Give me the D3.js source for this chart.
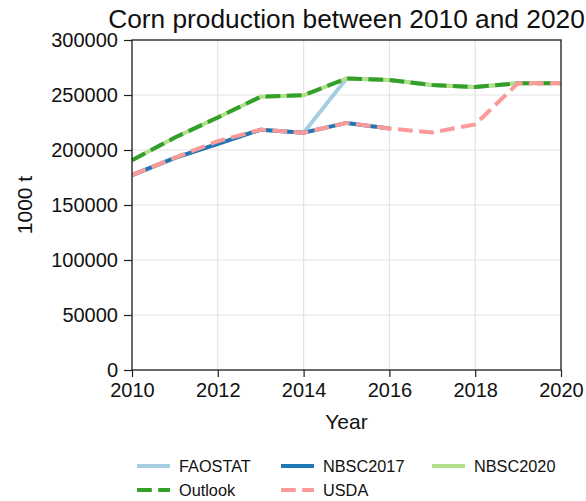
<!DOCTYPE html>
<html>
<head>
<meta charset="utf-8">
<script src="https://cdn.jsdelivr.net/npm/d3@7"></script>
<style>
  html, body { margin: 0; padding: 0; background: #fff; }
  svg { display: block; font-family: "Liberation Sans", Arial, sans-serif; }
</style>
</head>
<body>
<svg id="chart" width="586" height="501"></svg>
<script>
// Corn production series, 1000 t
const years = [2010, 2011, 2012, 2013, 2014, 2015, 2016, 2017, 2018, 2019, 2020];
const faostat  = [177245, 192781, 205614, 218489, 215646, 265030, 263610, 259070, 257170, 260780, null];
const nbsc2017 = [177245, 192781, 205614, 218489, 215646, 224632, 219554, null, null, null, null];
const nbsc2020 = [190750, 211310, 229560, 248450, 249760, 265030, 263610, 259070, 257170, 260780, 260670];
const outlook  = [190750, 211310, 229560, 248450, 249760, 265030, 263610, 259070, 257170, 260780, 260670];
const usda     = [177245, 193000, 208000, 218490, 215646, 224632, 219554, 215891, 223300, 260780, 260670];

const yTicks = [0, 50000, 100000, 150000, 200000, 250000, 300000];
const xTicks = [2010, 2012, 2014, 2016, 2018, 2020];

const series = [
  { name: "FAOSTAT",  values: faostat,  color: "#a6cee3", dashed: false },
  { name: "NBSC2017", values: nbsc2017, color: "#1f78b4", dashed: false },
  { name: "NBSC2020", values: nbsc2020, color: "#b2df8a", dashed: false },
  { name: "Outlook",  values: outlook,  color: "#33a02c", dashed: true },
  { name: "USDA",     values: usda,     color: "#fb9a99", dashed: true }
];

const svg = d3.select("#chart");
const m = { left: 132, right: 25, top: 40, bottom: 131 };
const W = 586, H = 501;
const x = d3.scaleLinear().domain([2010, 2020]).range([m.left, W - m.right]);
const y = d3.scaleLinear().domain([0, 300000]).range([H - m.bottom, m.top]);
const dash = "14.8,6.4";
const lw = 4;

// grid
const grid = svg.append("g");
grid.selectAll(".gx").data(xTicks).join("line")
  .attr("x1", d => x(d)).attr("x2", d => x(d))
  .attr("y1", y(0)).attr("y2", y(300000))
  .attr("stroke", "#e3e3e3").attr("stroke-width", 1.2);
grid.selectAll(".gy").data(yTicks).join("line")
  .attr("x1", x(2010)).attr("x2", x(2020))
  .attr("y1", d => y(d)).attr("y2", d => y(d))
  .attr("stroke", "#e3e3e3").attr("stroke-width", 1.2);

// lines
const line = d3.line()
  .defined(d => d[1] != null)
  .x(d => x(d[0])).y(d => y(d[1]));
const lines = svg.append("g").attr("fill", "none");
series.forEach(s => {
  lines.append("path")
    .datum(years.map((yr, i) => [yr, s.values[i]]))
    .attr("d", line)
    .attr("stroke", s.color)
    .attr("stroke-width", lw)
    .attr("stroke-dasharray", s.dashed ? dash : null);
});

// axes
const axFont = 20;
const xAxis = svg.append("g").attr("transform", `translate(0,${y(0)})`)
  .call(d3.axisBottom(x).tickValues(xTicks).tickFormat(d3.format("d")).tickSize(7).tickPadding(6));
const yAxis = svg.append("g").attr("transform", `translate(${x(2010)},0)`)
  .call(d3.axisLeft(y).tickValues(yTicks).tickFormat(d => String(d)).tickSize(8).tickPadding(6));
[xAxis, yAxis].forEach(a => {
  a.selectAll("text").attr("font-size", axFont).attr("fill", "#111")
    .attr("font-family", "'Liberation Sans', Arial, sans-serif");
  a.selectAll("line").attr("stroke", "#222").attr("stroke-width", 1.2);
  a.select(".domain").remove();
});
// frame
svg.append("rect")
  .attr("x", x(2010)).attr("y", y(300000))
  .attr("width", x(2020) - x(2010)).attr("height", y(0) - y(300000))
  .attr("fill", "none").attr("stroke", "#222").attr("stroke-width", 1.3);

// titles
svg.append("text").attr("x", (x(2010) + x(2020)) / 2).attr("y", 28)
  .attr("text-anchor", "middle").attr("font-size", 26.3).attr("fill", "#111")
  .text("Corn production between 2010 and 2020");
svg.append("text").attr("x", (x(2010) + x(2020)) / 2).attr("y", 429)
  .attr("text-anchor", "middle").attr("font-size", 21).attr("fill", "#111")
  .text("Year");
svg.append("text").attr("transform", `translate(32,${(y(0) + y(300000)) / 2}) rotate(-90)`)
  .attr("text-anchor", "middle").attr("font-size", 21).attr("fill", "#111")
  .text("1000 t");

// legend
const legPos = [[137, 466], [281, 466], [432, 466], [137, 490], [281, 490]];
const leg = svg.append("g");
series.forEach((s, i) => {
  const [lx, ly] = legPos[i];
  leg.append("line").attr("x1", lx).attr("x2", lx + 33).attr("y1", ly).attr("y2", ly)
    .attr("stroke", s.color).attr("stroke-width", lw)
    .attr("stroke-dasharray", s.dashed ? dash : null);
  leg.append("text").attr("x", lx + 42).attr("y", ly + 6)
    .attr("font-size", 16.3).attr("fill", "#111").text(s.name);
});
</script>
</body>
</html>
